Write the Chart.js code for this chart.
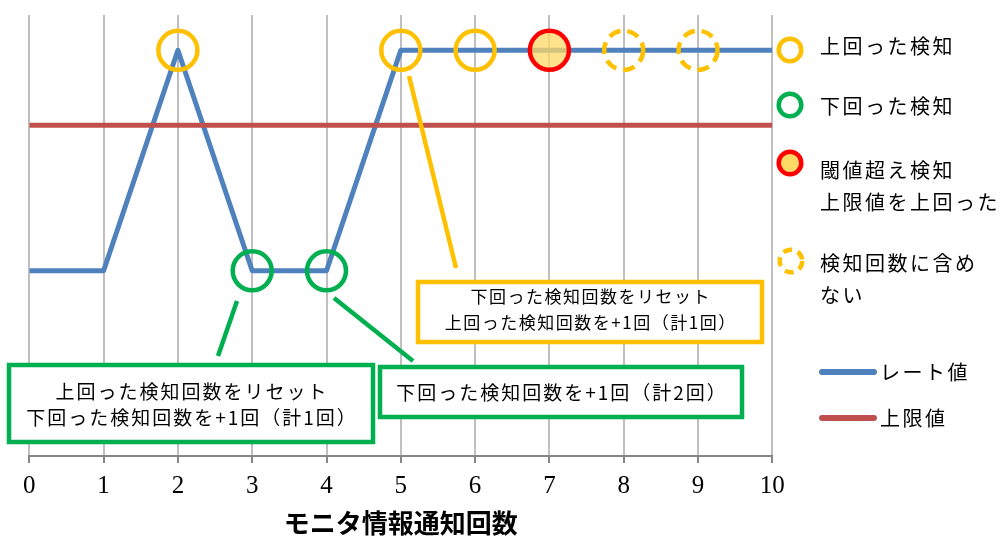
<!DOCTYPE html>
<html lang="ja">
<head>
<meta charset="utf-8">
<title>モニタ情報通知回数</title>
<script src="https://cdn.jsdelivr.net/npm/chart.js@4.4.1/dist/chart.umd.min.js"></script>
<style>
  html, body { margin: 0; padding: 0; background: #fff; }
  #wrap { width: 1005px; height: 536px; }
</style>
</head>
<body>
<div id="wrap"><canvas id="rateChart" width="1005" height="536"></canvas></div>
<script>
// データ
const stepLabels = [0, 1, 2, 3, 4, 5, 6, 7, 8, 9, 10];
const rateValues = [42, 42, 92, 42, 42, 92, 92, 92, 92, 92, 92];
const limitValues = [75, 75, 75, 75, 75, 75, 75, 75, 75, 75, 75];

// 検知マーカーの位置（通知回数）
const overSteps = [2, 5, 6];
const underSteps = [3, 4];
const alarmSteps = [7];
const ignoredSteps = [8, 9];

const seriesLabels = ["レート値", "上限値"];
const markLabels = [
  ["上回った検知"],
  ["下回った検知"],
  ["閾値超え検知", "上限値を上回った"],
  ["検知回数に含め", "ない"],
];
const axisTitle = "モニタ情報通知回数";

const COLORS = {
  rate: "#4F81BD",
  limit: "#C0504D",
  over: "#FFC000",
  under: "#00B050",
  alarm: "#FF0000",
  alarmFill: "rgba(255, 217, 102, 0.75)",
  alarmFillSolid: "#FFD966",
  grid: "#BFBFBF",
  axis: "#868686",
  text: "#000000",
};

const JP_FONT = '"Noto Sans CJK JP", "Noto Sans", sans-serif';

// 吹き出し（ピクセル配置）
const notes = [
  {
    color: COLORS.under,
    box: [9, 365, 373, 442],
    lines: ["上回った検知回数をリセット", "下回った検知回数を+1回（計1回）"],
    lineYs: [392, 418],
    size: 19,
    spacing: 2,
    from: [237, 301],
    to: [218, 356],
  },
  {
    color: COLORS.under,
    box: [380, 367, 742, 417],
    lines: ["下回った検知回数を+1回（計2回）"],
    lineYs: [393],
    size: 19,
    spacing: 2,
    from: [334, 298],
    to: [413, 361],
  },
  {
    color: COLORS.over,
    box: [418, 282, 762, 342],
    lines: ["下回った検知回数をリセット", "上回った検知回数を+1回（計1回）"],
    lineYs: [297, 323],
    size: 17,
    spacing: 1.5,
    from: [409, 76],
    to: [456, 268],
  },
];

function toPoints(steps) {
  return steps.map((s) => ({ x: s, y: rateValues[s] }));
}

function ring(ctx, x, y, r, color, width, fill, dash) {
  ctx.save();
  ctx.beginPath();
  ctx.arc(x, y, r, 0, Math.PI * 2);
  if (fill) {
    ctx.fillStyle = fill;
    ctx.fill();
  }
  if (dash) ctx.setLineDash(dash);
  ctx.lineWidth = width;
  ctx.strokeStyle = color;
  ctx.stroke();
  ctx.restore();
}

// 点線の円（検知回数に含めない）
const ignoredMarkers = {
  id: "ignoredMarkers",
  afterDatasetsDraw(chart) {
    const { ctx, scales } = chart;
    ignoredSteps.forEach((s) => {
      const px = scales.x.getPixelForValue(s);
      const py = scales.y.getPixelForValue(rateValues[s]);
      ring(ctx, px, py, 19.5, COLORS.over, 4.5, null, [12, 7]);
    });
  },
};

// 吹き出しと凡例
const notesAndLegend = {
  id: "notesAndLegend",
  afterDraw(chart) {
    const ctx = chart.ctx;
    ctx.save();

    notes.forEach((n) => {
      const [x1, y1, x2, y2] = n.box;
      ctx.lineWidth = 4.5;
      ctx.strokeStyle = n.color;
      ctx.lineCap = "butt";
      ctx.beginPath();
      ctx.moveTo(n.from[0], n.from[1]);
      ctx.lineTo(n.to[0], n.to[1]);
      ctx.stroke();

      ctx.fillStyle = "#fff";
      ctx.fillRect(x1, y1, x2 - x1, y2 - y1);
      ctx.strokeRect(x1, y1, x2 - x1, y2 - y1);

      ctx.fillStyle = COLORS.text;
      ctx.font = `${n.size}px ${JP_FONT}`;
      ctx.letterSpacing = `${n.spacing}px`;
      ctx.textAlign = "center";
      ctx.textBaseline = "middle";
      n.lines.forEach((t, i) => {
        ctx.fillText(t, (x1 + x2) / 2 + n.spacing / 2, n.lineYs[i]);
      });
    });

    // 凡例：マーカー
    const markX = 790;
    const textX = 820;
    const markYs = [50, 105, 163, 261];
    const textYs = [[46], [106], [170, 202], [263, 295]];
    ring(ctx, markX, markYs[0], 11.3, COLORS.over, 4.5);
    ring(ctx, markX, markYs[1], 11.3, COLORS.under, 4.5);
    ring(ctx, markX, markYs[2], 11.3, COLORS.alarm, 4.5, COLORS.alarmFillSolid);
    ring(ctx, markX + 1, markYs[3], 11.3, COLORS.over, 4.5, null, [9, 6]);

    ctx.fillStyle = COLORS.text;
    ctx.font = `20px ${JP_FONT}`;
    ctx.letterSpacing = "2.5px";
    ctx.textAlign = "left";
    ctx.textBaseline = "middle";
    markLabels.forEach((lines, i) => {
      lines.forEach((t, j) => ctx.fillText(t, textX, textYs[i][j]));
    });

    // 凡例：系列
    const lineYs = [372, 418];
    const lineColors = [COLORS.rate, COLORS.limit];
    seriesLabels.forEach((label, i) => {
      ctx.strokeStyle = lineColors[i];
      ctx.lineWidth = 6;
      ctx.lineCap = "round";
      ctx.beginPath();
      ctx.moveTo(822, lineYs[i]);
      ctx.lineTo(874, lineYs[i]);
      ctx.stroke();
      ctx.fillStyle = COLORS.text;
      ctx.fillText(label, 880, lineYs[i]);
    });

    ctx.restore();
  },
};

const ctx = document.getElementById("rateChart").getContext("2d");

new Chart(ctx, {
  type: "line",
  data: {
    datasets: [
      {
        type: "scatter",
        label: "閾値超え検知",
        data: toPoints(alarmSteps),
        pointRadius: 19.5,
        pointBorderWidth: 4.5,
        pointBorderColor: COLORS.alarm,
        pointBackgroundColor: COLORS.alarmFill,
      },
      {
        type: "scatter",
        label: "上回った検知",
        data: toPoints(overSteps),
        pointRadius: 19.5,
        pointBorderWidth: 4.5,
        pointBorderColor: COLORS.over,
        pointBackgroundColor: "rgba(0,0,0,0)",
      },
      {
        type: "scatter",
        label: "下回った検知",
        data: toPoints(underSteps),
        pointRadius: 19.5,
        pointBorderWidth: 4.5,
        pointBorderColor: COLORS.under,
        pointBackgroundColor: "rgba(0,0,0,0)",
      },
      {
        label: seriesLabels[1],
        data: stepLabels.map((s, i) => ({ x: s, y: limitValues[i] })),
        borderColor: COLORS.limit,
        borderWidth: 5,
        pointRadius: 0,
      },
      {
        label: seriesLabels[0],
        data: stepLabels.map((s, i) => ({ x: s, y: rateValues[i] })),
        borderColor: COLORS.rate,
        borderWidth: 5,
        borderJoinStyle: "round",
        pointRadius: 0,
      },
    ],
  },
  options: {
    responsive: false,
    devicePixelRatio: 1,
    animation: false,
    layout: {
      autoPadding: false,
      padding: { left: 29.3, right: 232.7, top: 15, bottom: 0 },
    },
    plugins: {
      legend: { display: false },
      tooltip: { enabled: false },
    },
    scales: {
      x: {
        type: "linear",
        min: 0,
        max: 10,
        ticks: {
          stepSize: 1,
          color: COLORS.text,
          padding: 8,
          font: { family: '"Liberation Serif", serif', size: 25 },
        },
        grid: {
          color: COLORS.grid,
          lineWidth: 2,
          tickLength: 7,
          tickColor: COLORS.axis,
        },
        border: { color: COLORS.axis, width: 2 },
        title: {
          display: true,
          text: axisTitle,
          color: COLORS.text,
          padding: { top: 0, bottom: 0 },
          font: { family: JP_FONT, weight: "bold", size: 26, lineHeight: 1 },
        },
        afterFit(scale) {
          scale.height = 80;
        },
      },
      y: {
        display: false,
        min: 0,
        max: 100,
      },
    },
  },
  plugins: [ignoredMarkers, notesAndLegend],
});
</script>
</body>
</html>
